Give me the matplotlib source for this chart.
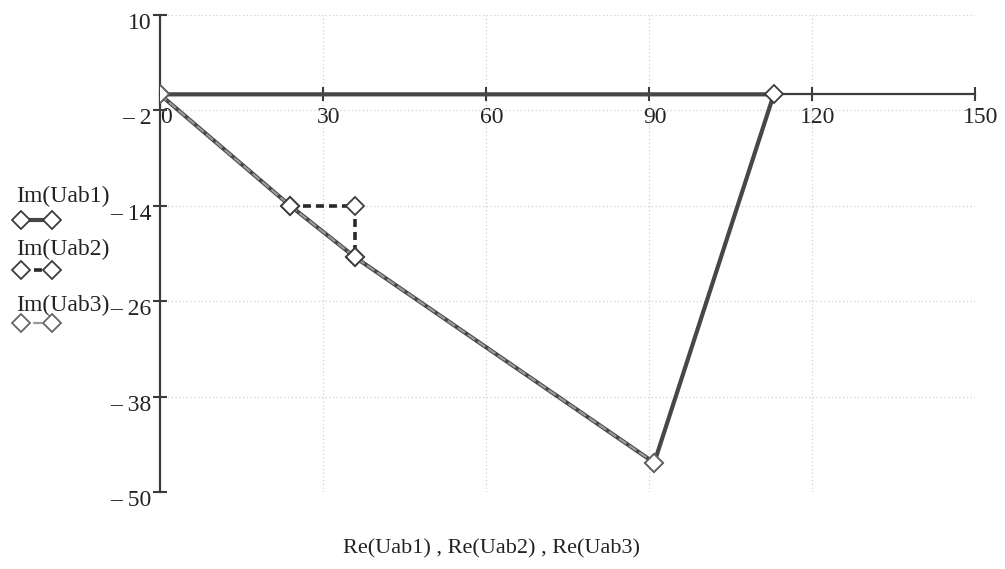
"""Phasor path plot of the three line voltages Uab1, Uab2, Uab3."""

import matplotlib
matplotlib.use("Agg")
import matplotlib.pyplot as plt
from matplotlib.lines import Line2D
from matplotlib.ticker import FixedLocator, FuncFormatter
from matplotlib.transforms import ScaledTranslation

# real / imaginary parts of each voltage path
re_uab1 = [0, 113, 91, 36, 24, 0]
im_uab1 = [0, 0, -46.3, -20.5, -14, 0]
re_uab2 = [24, 36, 36]
im_uab2 = [-14, -14, -20.5]
re_uab3 = [0, 24, 36, 91]
im_uab3 = [0, -14, -20.5, -46.3]

x_ticks = [0, 30, 60, 90, 120, 150]
y_ticks = [10, -2, -14, -26, -38, -50]
legend_labels = ["Im(Uab1)", "Im(Uab2)", "Im(Uab3)"]
x_label = "Re(Uab1) , Re(Uab2) , Re(Uab3)"

SERIF = "Liberation Serif"
DARK = "#3c3c3c"
TEXT = "#222222"

plt.rcParams["font.family"] = SERIF

fig = plt.figure(figsize=(10.05, 5.69), dpi=100)
ax = fig.add_axes([0.159, 0.135, 0.811, 0.839])

styles = [
    dict(color="#474747", lw=3.0, ls="-"),
    dict(color="#2a2a2a", lw=2.6, ls=(0, (2.2, 1.4))),
    dict(color="#9a9a9a", lw=1.6, ls=(0, (4, 1.5))),
]
edges = [DARK, DARK, "#666666"]
marker_kw = dict(marker="D", markersize=9, markerfacecolor="white",
                 markeredgewidth=1.3)

ax.plot(re_uab1, im_uab1, **styles[0], markeredgecolor=edges[0],
        **marker_kw, zorder=3)
ax.plot(re_uab3, im_uab3, **styles[2], markeredgecolor=edges[2],
        **marker_kw, zorder=4)
ax.plot(re_uab2, im_uab2, **styles[1], markeredgecolor=edges[1],
        **marker_kw, zorder=5)

ax.set_xlim(0, 150)
ax.set_ylim(-50, 10)

ax.xaxis.set_major_locator(FixedLocator(x_ticks))
ax.yaxis.set_major_locator(FixedLocator(y_ticks))
ax.yaxis.set_major_formatter(
    FuncFormatter(lambda v, _: f"\u2013 {abs(v):g}" if v < 0 else f"{v:g}"))

# Mathcad-style crossed axes: horizontal axis through zero, no frame
for side in ("top", "right"):
    ax.spines[side].set_visible(False)
ax.spines["bottom"].set_position(("data", 0))
for side in ("bottom", "left"):
    ax.spines[side].set_color(DARK)
    ax.spines[side].set_linewidth(1.6)

ax.tick_params(axis="both", direction="inout", length=10, width=1.5,
               color=DARK, labelsize=17, labelcolor=TEXT)
ax.tick_params(axis="x", pad=4)
ax.tick_params(axis="y", pad=1)

# tick labels sit a little right of / below their ticks
for lab in ax.get_xticklabels():
    lab.set_transform(lab.get_transform()
                      + ScaledTranslation(6 / 100, 0, fig.dpi_scale_trans))
for lab in ax.get_yticklabels():
    lab.set_transform(lab.get_transform()
                      + ScaledTranslation(0, -6 / 100, fig.dpi_scale_trans))

ax.grid(True, ls=(0, (1, 2)), color="#d2d2d2", lw=0.9)
ax.set_axisbelow(True)

fig.text(0.489, 0.035, x_label, ha="center", va="center", fontsize=16,
         color=TEXT)

# legend column on the left: label above a short sample line
label_y = [0.654, 0.561, 0.464]
sample_y = [0.613, 0.525, 0.432]
for label, ly, sy, st, ec in zip(legend_labels, label_y, sample_y,
                                 styles, edges):
    fig.text(0.016, ly, label, ha="left", va="center", fontsize=17,
             color=TEXT)
    fig.add_artist(Line2D([0.021, 0.052], [sy, sy], transform=fig.transFigure,
                          markeredgecolor=ec, **st, **marker_kw))

fig.savefig("out.png", dpi=100)
